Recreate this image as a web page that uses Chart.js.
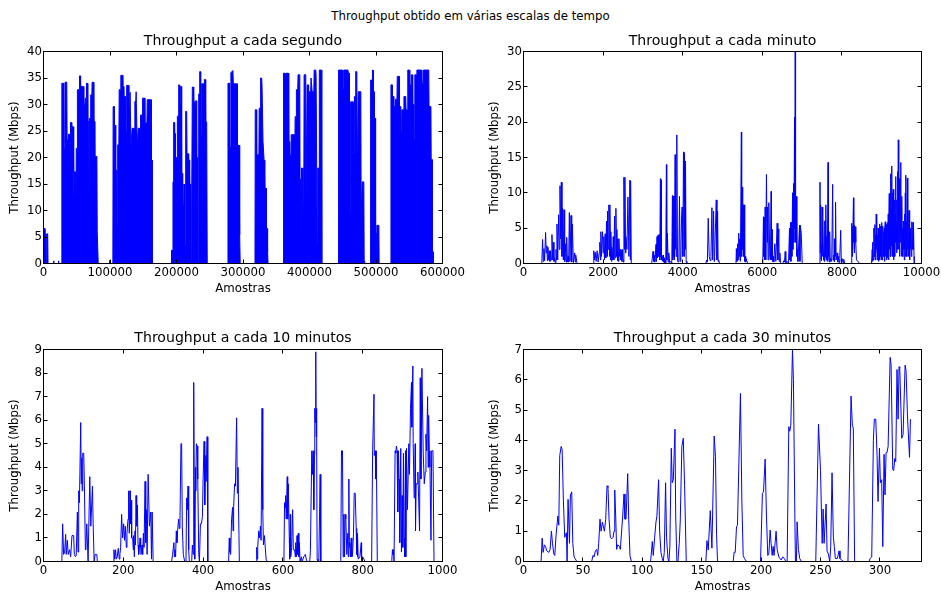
<!DOCTYPE html>
<html>
<head>
<meta charset="utf-8">
<script src="https://cdn.jsdelivr.net/npm/chart.js@4.4.1/dist/chart.umd.min.js"></script>
<style>
  body { margin: 0; background: #fff; width: 941px; height: 595px; position: relative; overflow: hidden; font-family: "DejaVu Sans", sans-serif; }
  #suptitle { position: absolute; left: 0; top: 9px; width: 941px; text-align: center; font-size: 11.75px; line-height: 14px; color: #000; }
  canvas { position: absolute; }
</style>
</head>
<body>
<div id="suptitle">Throughput obtido em várias escalas de tempo</div>
<canvas id="perSecond" width="475" height="275" style="left:0;top:25px"></canvas>
<canvas id="perMinute" width="466" height="275" style="left:475px;top:25px"></canvas>
<canvas id="per10min" width="475" height="275" style="left:0;top:320px"></canvas>
<canvas id="per30min" width="466" height="275" style="left:475px;top:320px"></canvas>
<script>
// throughput per second (envelope of the bursts, sample index -> Mbps)
const secX = [
  0, 1800, 2200, 3200, 3600, 4600, 5000, 6300, 6800, 15000, 15300, 15700, 22300, 22600, 23000,
  27300, 27600, 30000, 30400, 32000, 32400, 35000, 35500, 37000, 37500, 39000, 39500, 40300, 40600, 42000,
  42500, 44600, 45000, 45800, 46100, 46600, 47600, 48100, 48800, 49300, 50500, 51000, 53600, 54100, 55400,
  55800, 58700, 59000, 59400, 60400, 60900, 62400, 62800, 64200, 64600, 66200, 66600, 68200, 68500, 68900,
  70500, 71000, 72700, 73100, 75200, 75700, 76700, 77200, 80300, 80800, 81700, 82300, 99000, 99300, 99700,
  104300, 104700, 106200, 106700, 108000, 108400, 108900, 110300, 110700, 111300, 111800, 113300, 113800, 115800, 116300,
  118800, 119300, 120300, 120800, 123000, 123500, 124600, 125100, 127900, 128400, 129800, 130200, 131200, 131600, 132800,
  133300, 136900, 137400, 138800, 139300, 140500, 141000, 141900, 142400, 145500, 146000, 148500, 149000, 152000, 152500,
  155500, 156000, 161800, 162200, 163200, 163700,
  192000, 192500, 194200, 194700, 195300, 195700, 196800, 197200, 198000, 198200, 198800, 199300, 200800, 201300, 202800,
  203300, 204400, 204800, 205800, 206300, 207300, 207800, 208800, 209300, 209900, 210300, 210900, 211300, 211900, 212300,
  213300, 213800, 215300, 215800, 217800, 218300, 219300, 219800, 220800, 221300, 221900, 222300, 223300, 223800, 225400,
  225900, 226900, 227400, 228400, 228900, 229900, 230400, 231400, 231900, 232900, 233400, 234400, 234900, 235900, 236400,
  237400, 237900, 241400, 241900, 243400, 243900, 245400, 246200,
  277000, 277400, 279500, 279900, 281300, 281800, 284800, 285500, 291200, 291700, 294200, 294700, 295300, 295800,
  318000, 318400, 320100, 320600, 323900, 324400, 326100, 326500, 328100, 328600, 329600, 330100, 331300, 331700, 332600,
  333000, 334700, 335200, 336300, 336700, 337300, 337700,
  360600, 361000, 363300, 363700, 364600, 365000, 368300, 368800, 369800, 370300, 371300, 371600, 372100, 372500, 376800,
  377200, 377900, 378400, 379800, 380300, 382300, 382800, 385400, 385800, 386600, 387000, 387500, 387900, 389800, 390200,
  391400, 391900, 394400, 394800, 396000, 396500, 398000, 398400, 398900, 399400, 401800, 402300, 403500, 404000, 406500,
  407000, 409400, 409900, 411200, 411600, 412200, 412600, 414300, 414800, 417800, 418500,
  443300, 443700, 449300, 449600, 451000, 451400, 457800, 458600, 459600, 460000, 461300, 461800, 465600, 466100, 467100,
  467500, 469000, 469500, 471200, 471700, 472700, 473200, 477200, 477700, 478700, 479200, 481700, 482200, 482900,
  491500, 491900, 494300, 494700, 495500, 495900, 497300, 497700, 499000, 499400, 500800, 501100, 501400, 504300, 504700,
  522100, 522500, 524300, 524700, 526400, 526800, 529000, 529400, 531500, 532000, 534800, 535200, 537400, 537800, 538600,
  539000, 541500, 542000, 544700, 545200, 547300, 547800, 550300, 550800, 552800, 553200, 554800, 555200, 556500, 556900,
  557900, 558400, 561000, 561500, 568500, 569000, 571000, 571500, 579300, 579800, 582600, 583000, 584400, 584900, 586000, 586500
];
const secY = [
  6.6, 6.6, 5.5, 5.5, 0.2, 0.2, 5.6, 5.6, 0, 0, 0.5, 0, 0, 0.5, 0,
  0, 34, 34, 21.7, 21.7, 34.2, 34.2, 23.3, 23.3, 24.4, 24.4, 22.7, 22.7, 26.6, 26.6,
  25.8, 25.8, 17.3, 17.3, 8.8, 17.3, 17.3, 3.1, 3.1, 21.7, 21.7, 32.8, 32.8, 35.4, 35.4,
  33.4, 33.4, 14, 33.4, 33.4, 29.9, 29.9, 31.2, 31.2, 34, 34, 26.8, 26.8, 13.5, 27.4,
  27.4, 31.8, 31.8, 34.2, 34.2, 26.8, 26.8, 20.2, 20.2, 6, 6, 0, 0, 0.6, 0,
  0, 29.6, 29.6, 26.1, 26.1, 11, 17.6, 17.6, 7.2, 7.2, 22.4, 22.4, 32.8, 32.8, 35.5,
  35.5, 33.4, 33.4, 31.5, 31.5, 24.9, 24.9, 33.6, 33.6, 29.6, 29.6, 32.3, 32.3, 22, 22,
  25.5, 25.5, 30.6, 30.6, 32.4, 32.4, 22, 22, 25.5, 25.5, 28, 28, 31.2, 31.2, 26.5,
  26.5, 30.9, 30.9, 19.5, 19.5, 0,
  0, 2.5, 2.5, 15.4, 15.4, 26.6, 26.6, 24.5, 24.5, 13, 13, 20, 20, 27.8, 27.8,
  33.7, 33.7, 30, 30, 33.4, 33.4, 17, 17, 11, 11, 7, 7, 15, 15, 3.5,
  3.5, 28.7, 28.7, 20.7, 20.7, 19.5, 19.5, 15, 15, 0.5, 0.5, 10.5, 10.5, 33.3, 33.3,
  30.5, 30.5, 29.5, 29.5, 30.7, 30.7, 20, 20, 0.5, 0.5, 32, 32, 36.2, 36.2, 24.4,
  24.4, 33.9, 33.9, 34.7, 34.7, 26.7, 26.7, 0,
  0, 34, 34, 22, 22, 36, 36.4, 33.9, 33.9, 22.3, 22.3, 5.4, 5.4, 0,
  0, 29, 29, 20.5, 20.5, 29.3, 29.3, 35, 35, 33.7, 33.7, 23, 23, 19.5, 19.5,
  14.2, 14.2, 6.6, 6.6, 2.2, 2.2, 0,
  0, 35.9, 35.9, 35, 35, 35.9, 35.9, 23, 23, 20.5, 20.5, 9.1, 9.1, 24.3, 24.3,
  14.8, 14.8, 27.7, 27.7, 32.8, 32.8, 35.6, 35.6, 16, 16, 3.5, 3.5, 18, 18, 11,
  11, 35.6, 35.6, 12.6, 12.6, 33.7, 33.7, 8.5, 8.5, 32.4, 32.4, 35, 35, 32.4, 32.4,
  36.5, 36.5, 35.6, 35.6, 3.5, 3.5, 18, 18, 36.5, 36.5, 0,
  0, 36.5, 36.5, 33, 33, 36.5, 36.5, 35.9, 35.9, 9.8, 9.8, 30.5, 30.5, 21, 21,
  31.5, 31.5, 36.2, 36.2, 14.2, 14.2, 32.4, 32.4, 9.1, 9.1, 15.4, 15.4, 0.5, 0,
  0, 34.6, 34.6, 36.5, 36.5, 32.4, 32.4, 27.4, 27.4, 5.7, 5.7, 0.3, 7.2, 7.2, 0,
  0, 33.7, 33.7, 31.5, 31.5, 29.6, 29.6, 31, 31, 35.3, 35.3, 29.6, 29.6, 24.9, 24.9,
  29, 29, 31.5, 31.5, 29, 29, 36.5, 36.5, 33.7, 33.7, 35.6, 35.6, 30, 30, 23.6,
  23.6, 35.6, 35.6, 36.5, 36.5, 34, 34, 36.5, 36.5, 29.6, 29.6, 19.6, 19.6, 2.2, 2.2, 0
];

// throughput per minute
const minX = [
  0, 460, 479, 496, 513, 530, 555, 572, 589, 600, 614, 630, 648, 665, 681,
  698, 715, 732, 748, 765, 782, 800, 816, 830, 841, 860, 883, 900, 917, 934,
  950, 967, 984, 1001, 1018, 1034, 1051, 1068, 1085, 1102, 1119, 1135, 1152, 1169, 1194,
  1211, 1228, 1253, 1287, 1300, 1312, 1346,
  1749, 1766, 1783, 1800, 1825, 1850, 1875, 1901, 1917, 1934, 1943, 1960, 1985, 2002, 2018,
  2035, 2052, 2069, 2086, 2100, 2111, 2128, 2145, 2161, 2170, 2187, 2195, 2212, 2220, 2237,
  2254, 2271, 2288, 2304, 2321, 2338, 2346, 2363, 2372, 2388, 2397, 2414, 2430, 2447, 2456,
  2473, 2481, 2506, 2523, 2540, 2548, 2565, 2573, 2599, 2624, 2649, 2674, 2683, 2691, 2708,
  3221, 3254, 3271, 3280, 3297, 3305, 3330, 3339, 3356, 3364, 3381, 3389, 3406, 3423, 3440,
  3448, 3456, 3465, 3482, 3490, 3507, 3515, 3532, 3541, 3557, 3574, 3591, 3599, 3616, 3633,
  3650, 3675, 3700, 3726, 3742, 3751, 3759, 3768, 3785, 3793, 3810, 3818, 3827, 3835, 3852,
  3869, 3885, 3902, 3919, 3936, 3953, 3970, 3986, 4003, 4020, 4037, 4045, 4062, 4070, 4087, 4104,
  4583, 4600, 4620, 4641, 4667, 4692, 4710, 4734, 4751, 4776, 4790, 4801, 4843, 4860, 4877,
  4890, 4902, 4927,
  5339, 5348, 5364, 5381, 5398, 5407, 5423, 5432, 5449, 5474, 5482, 5491, 5507, 5516, 5533,
  5541, 5558, 5566, 5583, 5591, 5633,
  6012, 6029, 6037, 6045, 6062, 6071, 6087, 6104, 6121, 6129, 6146, 6163, 6188, 6205, 6222,
  6230, 6247, 6256, 6272, 6289, 6314, 6340, 6373, 6390, 6415, 6424, 6441, 6457, 6474,
  6516, 6540, 6558, 6575, 6590, 6626, 6659, 6667, 6684, 6693, 6710, 6718, 6735, 6743, 6760,
  6768, 6785, 6794, 6810, 6819, 6827, 6836, 6853, 6869, 6880, 6895, 6936, 6945, 6953, 6978, 7003,
  7430, 7449, 7458, 7466, 7475, 7483, 7492, 7500, 7512, 7525, 7540, 7550, 7558, 7567, 7575,
  7584, 7592, 7600, 7608, 7617, 7634, 7651, 7660, 7668, 7680, 7693, 7705, 7718, 7744, 7768,
  7780, 7794, 7803, 7811, 7820, 7828, 7836, 7845, 7855, 7880, 7895, 7912, 7930, 7945, 7970,
  7985, 8004, 8030, 8046, 8071,
  8235, 8248, 8256, 8265, 8273, 8290, 8299, 8307, 8315, 8340, 8349, 8366, 8380, 8408, 8441,
  8744, 8761, 8769, 8778, 8786, 8803, 8811, 8828, 8836, 8845, 8853, 8862, 8870, 8879, 8887,
  8895, 8904, 8912, 8920, 8929, 8938, 8946, 8954, 8962, 8971, 8980, 8988, 8996, 9005, 9013,
  9022, 9030, 9039, 9047, 9055, 9064, 9072, 9080, 9089, 9097, 9106, 9114, 9122, 9131, 9140,
  9148, 9156, 9164, 9173, 9181, 9190, 9198, 9206, 9215, 9223, 9232, 9240, 9248, 9257, 9265,
  9274, 9282, 9290, 9299, 9307, 9316, 9324, 9332, 9341, 9349, 9358, 9366, 9375, 9383, 9392,
  9400, 9408, 9417, 9425, 9433, 9442, 9450, 9459, 9467, 9475, 9484, 9492, 9500, 9509, 9517,
  9526, 9534, 9543, 9551, 9560, 9568, 9576, 9585, 9593, 9601, 9610, 9618, 9627, 9635, 9644,
  9652, 9660, 9669, 9677, 9686, 9694, 9702, 9711, 9719, 9728, 9736, 9744, 9753, 9761, 9770,
  9778, 9787, 9795, 9803, 9812, 9820
];
const minY = [
  0, 0, 3.4, 0.3, 2.1, 0.4, 4.4, 1.5, 2.5, 0.4, 2.3, 0.5, 1.8, 0.3, 1.8,
  0.5, 4.1, 0.5, 3.0, 0.3, 0.8, 0.1, 2.0, 0.5, 5.6, 0.5, 6.9, 2.0, 11.0, 3.5,
  11.5, 1.0, 7.8, 0.5, 7.6, 0.3, 2.8, 0.2, 3.7, 0.2, 1.0, 0.2, 7.2, 0.3, 6.8,
  0.2, 5.6, 0.1, 1.5, 0.2, 1.2, 0,
  0, 1.8, 0.5, 1.6, 0.3, 1.8, 0.2, 1.5, 3.0, 0.5, 4.5, 1.0, 4.5, 1.5, 3.8,
  0.5, 4.2, 0.8, 6.0, 1.0, 7.4, 2.0, 8.3, 1.0, 8.3, 0.5, 4.5, 0.3, 2.3, 0.5,
  3.8, 0.5, 6.7, 0.8, 7.8, 1.0, 4.8, 0.4, 3.5, 0.3, 3.5, 1.0, 2.0, 0.5, 1.8,
  0.3, 2.0, 0.2, 12.2, 2.0, 12.2, 1.5, 3.8, 2.0, 9.4, 1.0, 11.8, 0.5, 11.7, 0,
  0, 1.7, 0.3, 1.2, 0.2, 0.5, 2.7, 0.3, 3.8, 0.8, 4.0, 1.0, 4.1, 0.5, 12.0,
  1.0, 11.8, 0.5, 1.0, 0.4, 1.2, 0.2, 0.8, 0.1, 0.5, 0.1, 14.0, 0.5, 4.3, 0.2,
  1.5, 0.1, 0.3, 0.1, 9.6, 0.5, 9.5, 1.0, 9.5, 0.5, 15.4, 2.0, 10.0, 1.0, 18.2,
  0.5, 0.2, 0.3, 9.5, 0.3, 0.5, 6.3, 8.0, 1.0, 15.8, 1.0, 15.7, 2.0, 14.5, 0.3, 0,
  0, 0.5, 0.2, 6.4, 1.0, 0.4, 1.0, 7.9, 0.5, 7.4, 0.3, 1.0, 9.0, 0.5, 7.4,
  0.3, 0.5, 0,
  0, 2.1, 0.3, 2.8, 0.5, 4.3, 1.0, 3.5, 0.3, 18.6, 1.0, 10.8, 2.0, 8.3, 1.0,
  8.3, 0.3, 1.0, 0.2, 0.7, 0,
  0, 6.6, 1.0, 6.5, 0.5, 8.0, 0.5, 12.6, 3.0, 8.0, 0.5, 8.6, 1.0, 0.5, 10.2,
  0.5, 4.8, 0.3, 1.0, 0.2, 2.8, 0.3, 5.7, 0.5, 4.9, 0.3, 1.5, 0.1, 0,
  0, 0.4, 0.2, 1.7, 0.1, 0.3, 0, 0, 5.0, 0.5, 5.8, 0.3, 5.8, 1.0, 10.0,
  2.0, 11.3, 3.0, 20.7, 5.0, 30, 3.0, 9.5, 1.0, 2.0, 0.3, 5.4, 0.3, 5.4, 4.4, 0,
  0, 11.5, 1.5, 8.3, 0.5, 2.6, 0.4, 8.0, 1.0, 6.4, 0.5, 1.4, 0.3, 6.0, 0.8,
  6.1, 1.0, 8.3, 0.5, 3.8, 0.3, 14.3, 2.0, 1.0, 0.2, 4.5, 0.3, 0.7, 0.3, 11.2,
  0.5, 1.2, 0.3, 3.5, 0.3, 3.5, 1.0, 8.7, 0.5, 1.5, 0.2, 1.0, 0.1, 0.7, 4.7,
  0.3, 0.7, 0.1, 0.6, 0,
  0, 5.7, 1.0, 5.3, 2.0, 9.3, 3.0, 5.4, 1.5, 5.2, 3.0, 0.5, 0.4, 0.3, 0,
  0, 2.0, 0.3, 3.0, 0.5, 5.0, 1.0, 5.5, 0.5, 4.0, 1.5, 7.0, 2.0, 6.7, 0.5,
  4.0, 1.0, 5.0, 0.3, 4.5, 1.0, 5.6, 0.5, 4.0, 5.3, 1.0, 4.8, 0.5, 5.8, 0.5,
  3.5, 5.3, 2.0, 4.5, 1.0, 5.0, 0.3, 4.5, 5.9, 1.0, 4.0, 5.5, 0.5, 4.0, 0.8,
  5.8, 1.0, 7.0, 0.5, 6.0, 9.9, 2.0, 7.0, 1.0, 12.7, 1.0, 8.0, 2.5, 13.8, 2.0,
  10.0, 1.0, 10.5, 0.5, 6.0, 2.0, 9.0, 1.0, 7.0, 12.3, 3.0, 6.0, 1.5, 9.0, 2.0,
  13.0, 3.0, 17.5, 2.0, 9.0, 12.0, 1.0, 8.0, 3.0, 14.3, 4.0, 8.0, 1.0, 9.5, 2.0,
  5.0, 1.0, 6.0, 2.0, 5.0, 0.5, 7.0, 2.0, 10.0, 1.0, 12.5, 1.5, 6.0, 1.0, 12.1,
  2.0, 7.0, 1.0, 5.0, 7.5, 1.0, 5.0, 0.5, 5.0, 2.0, 4.5, 1.0, 5.0, 5.9, 2.0,
  4.0, 5.8, 2.0, 5.5, 1.0, 0
];

// throughput per 10 minutes
const tenX = [
  0, 46, 48, 50.4, 53, 55.5, 57, 59.7, 62, 65.5, 68, 71.4, 75.6, 77.3, 80,
  82, 84.9, 86.5, 88.2, 90, 93.3, 94.5, 95.8, 97, 98.3, 100.8, 102.5, 105, 106.5, 108.4,
  111.8, 114, 116, 118.5, 122.7, 124.4, 126.9, 129.4, 133.6, 135,
  174.8, 176.5, 178.5, 180.7, 182.5, 184.9, 187.4, 189.9, 191.5, 193.3, 195.8, 198.3, 200.8, 203, 205,
  207.6, 209.2, 211.8, 213.4, 215, 216.8, 218, 219.3, 221, 223.5, 225, 226, 227.7, 229.4, 230.5,
  231.9, 233.5, 235.3, 237, 238.5, 239.5, 242, 243.5, 244.5, 247, 248.5, 250.4, 252, 254.6, 256.3,
  258, 259.7, 262.2, 263.9, 265.5, 268.9, 270.6, 272.3, 274.8,
  321, 323.5, 326.9, 328, 329.4, 331, 332.8, 334.5, 336.1, 338.7, 340.5, 342, 344.5, 346.2, 347.9,
  350.4, 353.8, 357.1, 358.8, 360.5, 362.2, 363.9, 365.5, 371.4, 373.1, 375, 376.5, 377.8, 379, 380.7,
  381.5, 383.2, 385, 386.6, 389.1, 390.8, 393.3, 395.8, 398.3, 400, 402.5, 404.2, 406.7, 407.6, 410.1, 411.8,
  463.9, 465.6, 467.2, 469, 471.4, 473.9, 475, 476.5, 479, 481, 484, 485.8, 487.4, 488.3, 490.8,
  532.7, 534.4, 535.5, 536.9, 539.4, 542, 543.6, 545.3, 547.8, 549.5, 551.2, 553.7, 555.4, 557.9, 560.5,
  602.5, 604.2, 605.5, 606.8, 608.4, 610.9, 612, 613.5, 616, 617, 618.5, 619.4, 621.9, 624.4, 626.1,
  629.5, 631, 632, 633.7, 635.4, 637, 638.7, 640, 641.3, 642.9, 646.3, 648, 652.2, 656.4, 658.5, 660.6,
  667.3, 669, 672.4, 674.1, 675.7, 677.4, 679.1, 679.9, 681, 682.4, 683.3, 684.1, 685, 685.8, 687.5,
  690, 693.4, 695,
  745.1, 746.8, 748, 749.3, 751, 752.7, 754.5, 756, 757.7, 760.2, 762.7, 764, 765.3, 766.5, 767.8,
  769.5, 771.2, 772.8, 774.5, 777, 778.7, 781.2, 783.7, 785, 786.3, 786.7, 787.1, 788.8, 793, 796.3,
  797.2, 799.7, 803.1, 805.6,
  822.4, 824.9, 828.3, 829.1, 831.6, 832.5, 834.1, 836.6,
  872.8, 874.5, 875.7, 877, 878.6, 881.2, 883, 884.5, 886.2, 887.9, 889.6, 891.2, 892.9, 895.4, 897.1,
  898.8, 900.5, 902.1, 903.8, 905.5, 907.2, 908, 909.7, 912.2, 915.6, 917.2, 919.8, 920.6, 922.3, 923.1,
  925.7, 926.5, 929, 930.7, 931.5, 932.4, 934, 936.6, 938.3, 942.5, 944.2, 945.9, 948.4, 951.7, 954.3,
  956.8, 958.5, 960.2, 962.7, 964, 965.2, 966.9, 968.6, 971.1, 972.8, 976.1, 978.7
];
const tenY = [
  0, 0, 1.6, 0.3, 0.4, 1.15, 0.3, 0.9, 0.3, 0.5, 0.2, 1.1, 1.1, 0.3, 0.2,
  0.25, 2.1, 0.4, 3.0, 2.5, 5.9, 3.3, 4.4, 3.0, 4.6, 4.6, 3.2, 0.5, 0.7, 1.6,
  0, 0, 3.6, 1.5, 3.2, 1.6, 0, 0.3, 0.3, 0,
  0, 0.5, 0.1, 0.5, 0.1, 0.2, 0.56, 0.1, 0.3, 0.6, 2.0, 1.0, 1.6, 0.9, 1.5,
  0.6, 1.2, 1.8, 3.0, 1.2, 3.0, 1.6, 2.6, 1.0, 1.0, 0.5, 1.1, 0.2, 1.3, 0.7,
  2.8, 1.5, 2.4, 0.7, 0.3, 0.4, 1.0, 0.6, 0.3, 0.7, 0.3, 1.2, 0.6, 3.4, 0.8,
  2.2, 0.3, 3.7, 3.7, 1.5, 2.1, 0.1, 2.1, 0,
  0, 0.3, 0.8, 0.2, 0.5, 0.2, 1.3, 0.8, 1.3, 1.8, 1.4, 1.7, 5.0, 5.0, 1.5,
  0.3, 0, 0, 2.7, 2.2, 3.2, 0.5, 0, 0, 0.7, 0.3, 7.6, 3.0, 0.1, 4.0,
  3.0, 5.0, 4.9, 3.5, 0.3, 0, 1.6, 1.6, 1.9, 3.5, 5.1, 2.4, 4.5, 3.4, 5.3, 0,
  0, 1.0, 0.4, 0.3, 1.8, 2.3, 1.3, 2.3, 3.3, 3.2, 6.1, 2.9, 4.0, 3.0, 0,
  0, 0.6, 0.1, 0.6, 1.3, 1.0, 1.5, 0.9, 6.5, 2.2, 0.7, 1.1, 0.7, 0.1, 0,
  0, 2.5, 2.3, 2.8, 1.8, 3.6, 1.8, 3.3, 1.0, 0.1, 2.0, 0.2, 0.6, 2.2, 0.5,
  0.5, 0.2, 0.8, 0.2, 1.1, 0.3, 1.2, 0.2, 0.8, 0, 0.2, 0, 0.2, 0.3, 0.1, 0,
  0, 0.5, 4.7, 3.7, 4.7, 2.2, 4.5, 6.5, 5.9, 8.9, 5.3, 6.5, 5.5, 0.1, 0,
  0, 3.7, 0,
  0, 4.7, 4.5, 4.7, 0.2, 2.0, 0.2, 2.0, 1.8, 0.3, 1.2, 0.2, 3.5, 0.6, 0.8,
  0.2, 1.0, 0.2, 0.3, 1.2, 2.9, 2.9, 1.4, 0.3, 1.2, 0.2, 1.2, 0.1, 0.2, 0.8,
  0, 0.2, 0.1, 0,
  0, 4.7, 7.1, 4.5, 4.7, 3.5, 4.7, 0,
  0, 0.5, 0.3, 0.5, 0, 4.7, 4.6, 4.9, 4.7, 2.1, 4.7, 3.5, 0.8, 4.8, 0.4,
  2.8, 0.6, 4.6, 1.0, 0.2, 4.7, 0.2, 4.8, 2.2, 5.0, 3.7, 6.5, 6.5, 7.6, 5.7,
  8.3, 5.0, 2.7, 3.5, 5.0, 1.3, 3.3, 3.3, 3.8, 1.3, 7.8, 3.5, 8.2, 4.6, 3.3,
  3.8, 5.4, 4.7, 7.0, 4.0, 6.2, 4.7, 4.0, 0.9, 4.7, 4.7, 0
];

// throughput per 30 minutes
const thirtyX = [
  0, 14.8, 15.7, 16.5, 17.6, 18.5, 19.6, 21.3, 22.4, 23.5, 24.4, 25.5, 26.3, 27.5, 28.9,
  29.7, 30.5, 31.7, 32.5, 33.6, 34.7, 35.6, 36.1, 36.7, 37.5, 38.7, 39.5, 40.6, 41.5, 42.6,
  43.4, 44.8, 57.4, 58.5, 59.4, 60.5, 61.6, 62.5, 63.3, 64.4, 65.3, 66.4, 68.1, 69.2, 70.3,
  71.1, 72, 73.1, 74.2, 75.4, 76.2, 76.8, 77.6, 78.4, 79.3, 80.7, 81.5, 83.5, 84.6, 85.4,
  86.3, 87.7, 88.5, 89.6, 90.8, 107, 108.4, 109.2, 110.4, 111.5, 112.3, 113.7, 114.6, 115.7, 116.8,
  117.6, 118.5, 119.6, 120.4, 121.6, 122.4, 123.2, 124.4, 125.2, 126.1, 127.5, 128.1, 129.1, 130, 131.1,
  131.9, 133.3, 134.5, 135.6, 137, 153.5, 154.4, 155.5, 157.2, 158.6, 160.5, 161.6, 162.5, 163.3,
  176.5, 177.3, 178.2, 179.3, 180.1, 182.6, 183.8, 184.9, 186, 187.7,
  199.5, 201.1, 202, 203.4, 204.5, 205.6, 206.5, 207.6, 208.4, 209.3, 210.1, 210.9, 212.6, 213.5, 214.9,
  216.9, 218.2, 219.6, 220.8, 221.9, 223.3, 224.1, 225, 226.4, 227.2, 228.4, 228.9, 229.7, 230.3, 231.4,
  232.5, 233.9, 246, 248.3, 250, 251.4, 252.2, 253, 254.7, 255.5, 256.6, 257.8, 258.6, 259.7, 260.8,
  261.6, 262.5, 264.2, 265.6, 266.4, 267.6, 269.5, 273.1, 275.7, 276.8, 277.6, 278.7,
  290.9, 291.7, 293.1, 294.5, 295.3, 296.5, 297.6, 298.4, 299.6, 300.4, 301.5, 302.4, 303.5, 304.3, 305.2,
  306, 306.9, 308.6, 309.4, 310.8, 311.6, 312.5, 313.3, 314.4, 315.3, 316.1, 316.7, 318.4, 319.5, 321.2,
  322, 323.2, 324.9, 325.7
];
const thirtyY = [
  0, 0, 0.77, 0.3, 0.55, 0.5, 0.35, 0.3, 0.4, 1.0, 0.6, 0.25, 0.2, 0.9, 1.5,
  1.2, 3.5, 3.8, 3.7, 2.0, 0.8, 0.9, 0.95, 0, 2.05, 0.6, 2.2, 2.3, 0.6, 0.15,
  0.1, 0, 0, 0.2, 0.15, 0.35, 0.4, 0.2, 0.6, 1.4, 1.0, 1.3, 1.0, 1.4, 2.5,
  2.45, 1.4, 0.8, 0.75, 0.8, 1.0, 2.36, 1.5, 0.4, 0.55, 0.5, 0.4, 1.5, 2.23, 1.4,
  1.4, 2.9, 1.5, 0.2, 0, 0, 0.66, 0.2, 0.8, 1.3, 1.5, 2.7, 1.0, 0.3, 0.1,
  0, 0.3, 2.6, 0.8, 0.1, 0, 0.5, 3.74, 2.6, 2.7, 4.37, 1.5, 0, 0, 0.6,
  1.3, 3.8, 4.07, 2.5, 0, 0, 0.69, 0.38, 1.68, 0.44, 4.14, 3.46, 0.9, 0,
  0, 0.31, 0.3, 1.15, 1.2, 5.55, 2.0, 0.2, 0.1, 0,
  0, 2.25, 2.3, 3.38, 1.5, 0.2, 0.25, 1.04, 0.6, 0.2, 0.5, 0.2, 1.0, 0.4, 0.15,
  0.05, 0.15, 0.1, 0, 0, 4.45, 4.3, 4.5, 7.0, 6.0, 1.5, 0, 0, 1.31, 0.4,
  0.1, 0, 0, 4.54, 3.0, 0.6, 1.73, 0.6, 1.9, 0.35, 0.25, 0, 0.5, 2.93, 0.8,
  0.5, 0.1, 0.1, 0.35, 0.1, 0.05, 0, 0, 5.46, 4.5, 4.4, 0,
  0, 0.1, 0.15, 4.0, 4.7, 4.7, 3.5, 1.98, 3.74, 2.6, 2.7, 0.49, 3.54, 2.2, 3.6,
  3.6, 3.8, 6.74, 6.5, 3.04, 3.0, 3.4, 3.3, 6.34, 4.7, 6.43, 6.4, 4.07, 4.2, 6.48,
  6.3, 4.8, 3.44, 4.7
];

Chart.defaults.font.family = '"DejaVu Sans", sans-serif';
Chart.defaults.color = '#000';

// box frame plus inward ticks on all four sides
const frameTicks = {
  id: 'frameTicks',
  afterDraw(chart) {
    const { ctx, chartArea: a, scales: { x, y } } = chart;
    const len = 4;
    ctx.save();
    ctx.strokeStyle = '#000';
    ctx.lineWidth = 1;
    ctx.beginPath();
    x.ticks.forEach(t => {
      const px = Math.floor(x.getPixelForValue(t.value)) + 0.5;
      ctx.moveTo(px, a.bottom); ctx.lineTo(px, a.bottom - len);
      ctx.moveTo(px, a.top); ctx.lineTo(px, a.top + len);
    });
    y.ticks.forEach(t => {
      const py = Math.floor(y.getPixelForValue(t.value)) + 0.5;
      ctx.moveTo(a.left, py); ctx.lineTo(a.left + len, py);
      ctx.moveTo(a.right, py); ctx.lineTo(a.right - len, py);
    });
    ctx.stroke();
    ctx.strokeRect(a.left, a.top, a.right - a.left, a.bottom - a.top);
    ctx.restore();
  }
};

function drawPanel(id, xs, ys, p) {
  const small = { size: 11.75 };
  const pts = xs.map((x, i) => ({ x: x, y: ys[i] }));
  return new Chart(document.getElementById(id), {
    type: 'line',
    data: {
      datasets: [{
        data: pts,
        borderColor: '#0000ff',
        backgroundColor: '#0000ff',
        borderWidth: 1,
        borderJoinStyle: 'round',
        pointRadius: 0,
        tension: 0,
        fill: p.fill ? 'origin' : false
      }]
    },
    options: {
      responsive: false,
      animation: false,
      events: [],
      layout: { padding: { left: 0, right: p.padRight, top: 0, bottom: 0 } },
      plugins: {
        legend: { display: false },
        tooltip: { enabled: false },
        title: {
          display: true,
          text: p.title,
          fullSize: false,
          font: { size: 14.1, weight: 'normal' },
          padding: { top: p.titleTop, bottom: p.titleBottom }
        }
      },
      scales: {
        x: {
          type: 'linear',
          min: 0,
          max: p.xMax,
          grid: { display: false, drawTicks: false },
          border: { display: false },
          ticks: {
            stepSize: p.xStep,
            autoSkip: false,
            includeBounds: false,
            maxRotation: 0,
            padding: 2.3,
            font: small,
            callback: v => String(v)
          },
          title: { display: true, text: 'Amostras', font: small, padding: { top: 0, bottom: p.xTitlePad } },
          afterFit: s => { s.height = p.xBox; s.paddingLeft = 0; s.paddingRight = 0; }
        },
        y: {
          type: 'linear',
          min: 0,
          max: p.yMax,
          grid: { display: false, drawTicks: false },
          border: { display: false },
          ticks: { stepSize: p.yStep, padding: 1.5, font: small },
          title: { display: true, text: 'Throughput (Mbps)', font: small, padding: { top: p.yTitlePad, bottom: 0 } },
          afterFit: s => { s.width = p.yBox; s.paddingTop = 0; s.paddingBottom = 0; }
        }
      }
    },
    plugins: [frameTicks]
  });
}

const topRow = { titleTop: 7.96, titleBottom: 1.62, xBox: 36.5, xTitlePad: 4.35 };
const bottomRow = { titleTop: 10.26, titleBottom: 2.32, xBox: 33.5, xTitlePad: 1.35 };
const leftCol = { yBox: 43.5, padRight: 32.5, yTitlePad: 7.75 };
const rightCol = { yBox: 48.5, padRight: 19.5, yTitlePad: 12.75 };

drawPanel('perSecond', secX, secY, Object.assign({}, topRow, leftCol, {
  title: 'Throughput a cada segundo', xMax: 600000, xStep: 100000, yMax: 40, yStep: 5, fill: true
}));
drawPanel('perMinute', minX, minY, Object.assign({}, topRow, rightCol, {
  title: 'Throughput a cada minuto', xMax: 10000, xStep: 2000, yMax: 30, yStep: 5
}));
drawPanel('per10min', tenX, tenY, Object.assign({}, bottomRow, leftCol, {
  title: 'Throughput a cada 10 minutos', xMax: 1000, xStep: 200, yMax: 9, yStep: 1
}));
drawPanel('per30min', thirtyX, thirtyY, Object.assign({}, bottomRow, rightCol, {
  title: 'Throughput a cada 30 minutos', xMax: 335, xStep: 50, yMax: 7, yStep: 1
}));
</script>
</body>
</html>
